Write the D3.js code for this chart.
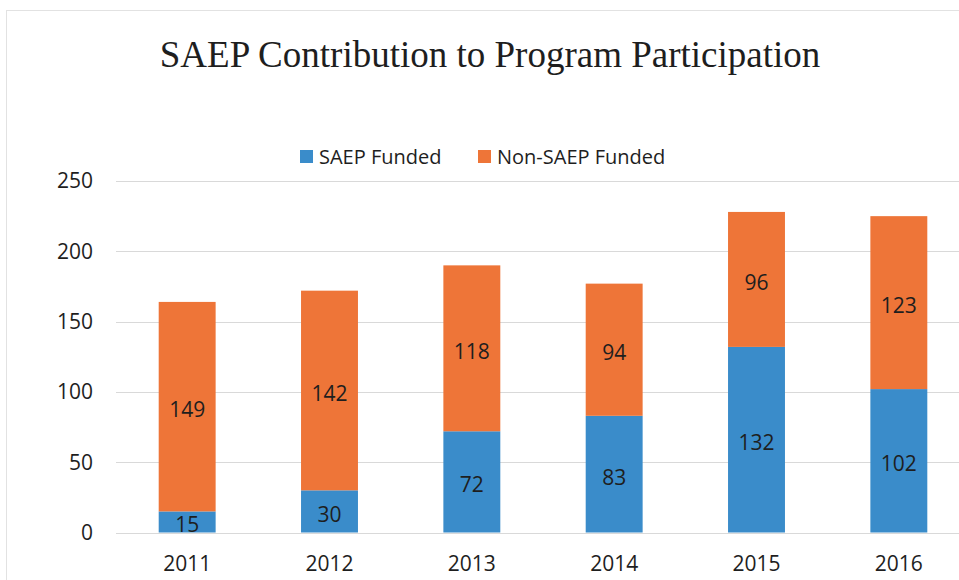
<!DOCTYPE html>
<html>
<head>
<meta charset="utf-8">
<script src="https://cdn.jsdelivr.net/npm/d3@7"></script>
<style>
  html, body { margin: 0; padding: 0; background: #fff; }
  svg { display: block; }
</style>
</head>
<body>
<div id="chart"></div>
<script>
// data
const years = ["2011", "2012", "2013", "2014", "2015", "2016"];
const saepFunded = [15, 30, 72, 83, 132, 102];
const nonSaepFunded = [149, 142, 118, 94, 96, 123];
const seriesNames = ["SAEP Funded", "Non-SAEP Funded"];
const yTicks = [0, 50, 100, 150, 200, 250];

const width = 959, height = 580;
const colors = ["#3a8cca", "#ee7538"];
const textColor = "#1e1e1e";
const font = "'Open Sans', sans-serif";

const svg = d3.select("#chart").append("svg")
  .attr("width", width)
  .attr("height", height);

// chart frame
svg.append("rect")
  .attr("x", 6.5).attr("y", 10.5)
  .attr("width", 1000).attr("height", 600)
  .attr("fill", "none")
  .attr("stroke", "#e2e2e2");

// scales
const x = d3.scaleBand().domain(years).range([116, 970]).paddingInner(0.6).paddingOuter(0.3);
const y = d3.scaleLinear().domain([0, 250]).range([532.5, 181]);

// gridlines
svg.append("g")
  .selectAll("line")
  .data(yTicks)
  .join("line")
  .attr("x1", 116).attr("x2", width)
  .attr("y1", (d) => Math.round(y(d)) + 0.5)
  .attr("y2", (d) => Math.round(y(d)) + 0.5)
  .attr("stroke", "#d9d9d9")
  .attr("stroke-width", 1);

// y tick labels
svg.append("g")
  .selectAll("text")
  .data(yTicks)
  .join("text")
  .attr("x", 93)
  .attr("y", (d) => y(d))
  .attr("dy", "0.35em")
  .attr("text-anchor", "end")
  .attr("font-family", font)
  .attr("font-size", 21)
  .attr("fill", textColor)
  .text((d) => d);

// stacked bars
const table = years.map((yr, i) => ({ year: yr, s0: saepFunded[i], s1: nonSaepFunded[i] }));
const stacked = d3.stack().keys(["s0", "s1"])(table);

const layer = svg.append("g")
  .selectAll("g")
  .data(stacked)
  .join("g")
  .attr("fill", (d, i) => colors[i]);

layer.selectAll("rect")
  .data((d) => d)
  .join("rect")
  .attr("x", (d) => x(d.data.year))
  .attr("width", x.bandwidth())
  .attr("y", (d) => y(d[1]))
  .attr("height", (d) => y(d[0]) - y(d[1]));

// value labels
layer.selectAll("text")
  .data((d) => d)
  .join("text")
  .attr("x", (d) => x(d.data.year) + x.bandwidth() / 2)
  .attr("y", (d) => y((d[0] + d[1]) / 2))
  .attr("dy", "0.5em")
  .attr("text-anchor", "middle")
  .attr("font-family", font)
  .attr("font-size", 21)
  .attr("fill", textColor)
  .text((d) => d[1] - d[0]);

// x labels
svg.append("g")
  .selectAll("text")
  .data(years)
  .join("text")
  .attr("x", (d) => x(d) + x.bandwidth() / 2)
  .attr("y", 571)
  .attr("text-anchor", "middle")
  .attr("font-family", font)
  .attr("font-size", 21)
  .attr("fill", textColor)
  .text((d) => d);

// title
svg.append("text")
  .attr("x", 490)
  .attr("y", 67)
  .attr("text-anchor", "middle")
  .attr("font-family", "'Liberation Serif', 'Times New Roman', serif")
  .attr("font-size", 37)
  .attr("fill", textColor)
  .text("SAEP Contribution to Program Participation");

// legend
const legendX = [300, 478];
const legend = svg.append("g")
  .selectAll("g")
  .data(seriesNames)
  .join("g")
  .attr("transform", (d, i) => `translate(${legendX[i]},150)`);

legend.append("rect")
  .attr("width", 13).attr("height", 13)
  .attr("fill", (d, i) => colors[i]);

legend.append("text")
  .attr("x", 19)
  .attr("y", 6.5)
  .attr("dy", "0.35em")
  .attr("font-family", font)
  .attr("font-size", 20)
  .attr("fill", textColor)
  .text((d) => d);
</script>
</body>
</html>
